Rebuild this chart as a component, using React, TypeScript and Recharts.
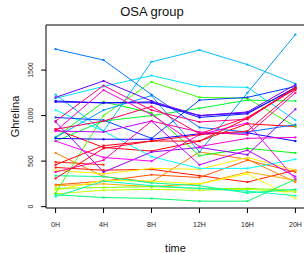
import { LineChart, Line, XAxis, YAxis, ReferenceArea } from "recharts";

const times = ["0H", "4H", "8H", "12H", "16H", "20H"];
const yTicks = [0, 500, 1000, 1500];

// one array per subject, ghrelin at 0H..20H
const s1 = [850, 650, 610, 720, 910, 880];
const s2 = [430, 400, 410, 340, 270, 400];
const s3 = [490, 460, null, null, null, null];
const s4 = [240, 280, 350, 320, 510, 380];
const s5 = [590, 330, 270, 600, 520, 270];
const s6 = [230, 250, 220, 250, 380, 290];
const s7 = [400, 360, 420, 410, 540, 400];
const s8 = [180, 290, 280, 250, 360, 90];
const s9 = [140, 180, 190, 180, 190, 160];
const s10 = [200, 210, 220, 200, 200, 180];
const s11 = [150, 1000, 1370, 1200, 1190, 880];
const s12 = [760, 1150, 1030, 560, 640, 590];
const s13 = [720, 940, 1000, 1080, 1170, 1160];
const s14 = [130, 100, 90, 60, 60, 300];
const s15 = [340, 330, 260, 230, 150, 190];
const s16 = [110, 280, 230, 200, 170, 120];
const s17 = [1060, 830, 550, 420, 420, 520];
const s18 = [1190, 1320, 1440, 1320, 1310, 950];
const s19 = [1230, 830, 1590, 1720, 1560, 1350];
const s20 = [760, 1060, 1220, 600, 1250, 1890];
const s21 = [1730, 1610, 1230, 870, 820, 900];
const s22 = [980, 950, 750, 1170, 1200, 1320];
const s23 = [1160, 1140, 1150, 980, 1020, 1310];
const s24 = [750, 740, 740, 800, 810, 720];
const s25 = [1150, 1140, 1140, 1000, 1030, 1300];
const s26 = [1200, 1380, 1160, 1000, 1040, 1340];
const s27 = [930, 380, 600, 650, 570, 1070];
const s28 = [830, 820, 940, 460, 620, 330];
const s29 = [720, 540, 500, 790, 920, 300];
const s30 = [830, 1280, 1010, 660, 750, 760];
const s31 = [380, 510, 940, 820, 790, 1250];
const s32 = [940, 1330, 1060, 930, 960, 1300];
const s33 = [850, 940, 1100, 800, 980, 1290];
const s34 = [310, 640, 720, 790, 830, 1280];
const s35 = [460, 670, 720, 720, 970, 1310];

const subjects = [
  s1, s2, s3, s4, s5, s6, s7, s8, s9, s10, s11, s12, s13, s14, s15, s16, s17, s18,
  s19, s20, s21, s22, s23, s24, s25, s26, s27, s28, s29, s30, s31, s32, s33, s34, s35,
];

const hues = [
  0, 5, 10, 20, 30, 40, 55, 60, 75, 90, 105, 120, 130, 145, 155, 165, 180, 187,
  195, 203, 212, 225, 235, 243, 250, 265, 275, 285, 300, 310, 320, 330, 340, 350, 355,
];

const rows = times.map((_, i) => {
  const row: Record<string, number | null> = { t: i };
  subjects.forEach((s, k) => {
    row["s" + k] = s[i];
  });
  return row;
});

const font = "'Liberation Sans', Arial, sans-serif";

function YTick(props: any) {
  const { x, y, payload } = props;
  return (
    <text
      x={x}
      y={y}
      transform={`rotate(-90, ${x}, ${y})`}
      textAnchor="middle"
      fontSize={7}
      fontFamily={font}
      fill="#222"
    >
      {payload.value}
    </text>
  );
}

function squareDot(color: string) {
  return (props: any) => {
    const { cx, cy, index } = props;
    if (cx == null || cy == null || props.value == null) return <g key={index} />;
    return <rect key={index} x={cx - 1} y={cy - 1} width={2} height={2} fill={color} />;
  };
}

export default function App() {
  return (
    <div
      style={{
        position: "absolute",
        left: 0,
        top: 0,
        width: 304,
        height: 253,
        overflow: "hidden",
        background: "#fff",
        fontFamily: font,
      }}
    >
      <div
        style={{
          position: "absolute",
          left: 0,
          width: 304,
          top: 4,
          textAlign: "center",
          fontSize: 13,
          color: "#111",
        }}
      >
        OSA group
      </div>
      <LineChart
        width={306}
        height={253}
        data={rows}
        margin={{ top: 25, right: 1, bottom: 0, left: 0 }}
      >
        <XAxis
          dataKey="t"
          type="number"
          domain={[-0.2, 5.2]}
          ticks={[0, 1, 2, 3, 4, 5]}
          tickFormatter={(v: number) => times[v]}
          height={45}
          axisLine={false}
          tickSize={5}
          tickMargin={9}
          tickLine={{ stroke: "#000" }}
          tick={{ fontSize: 7, fill: "#222", fontFamily: font }}
          label={{
            value: "time",
            position: "insideBottom",
            offset: 1,
            style: { fontSize: 11, fill: "#111", fontFamily: font },
          }}
        />
        <YAxis
          type="number"
          domain={[-15, 1995]}
          ticks={yTicks}
          width={46}
          axisLine={false}
          tickSize={5}
          tickMargin={8}
          tickLine={{ stroke: "#000" }}
          tick={<YTick />}
          allowDataOverflow
          label={{
            value: "Ghrelina",
            angle: -90,
            position: "insideLeft",
            offset: 15,
            style: { fontSize: 11, fill: "#111", fontFamily: font, textAnchor: "middle" },
          }}
        />
        <ReferenceArea
          x1={-0.2}
          x2={5.2}
          y1={-15}
          y2={1995}
          fill="none"
          stroke="#000"
          strokeWidth={1}
          ifOverflow="visible"
        />
        {subjects.map((_, k) => {
          const color = `hsl(${hues[k]}, 100%, 50%)`;
          return (
            <Line
              key={k}
              dataKey={"s" + k}
              stroke={color}
              strokeWidth={1}
              dot={squareDot(color)}
              activeDot={false}
              isAnimationActive={false}
              connectNulls={false}
            />
          );
        })}
      </LineChart>
    </div>
  );
}
